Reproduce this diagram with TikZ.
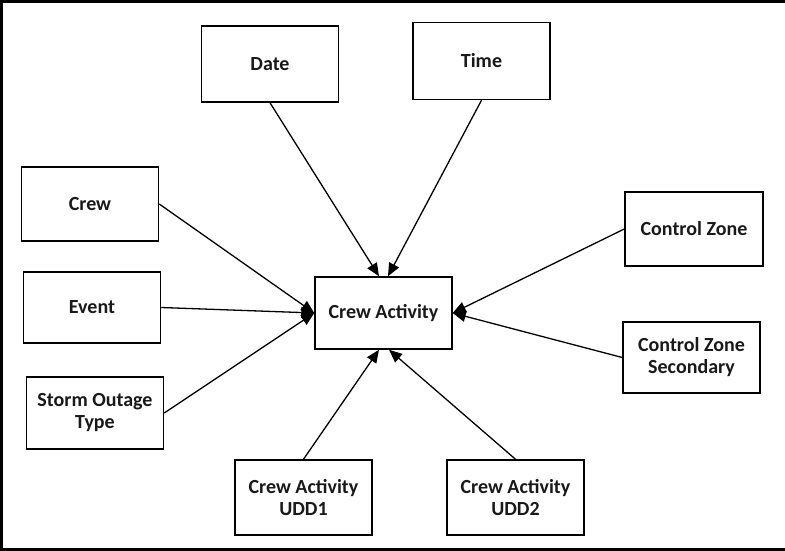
\documentclass[tikz,border=0pt]{standalone}
\usepackage{fontspec}
\setmainfont{Carlito}
\usetikzlibrary{arrows.meta}
\tikzset{
  ent/.style={draw=black, line width=1.5pt, rectangle, inner sep=0pt, align=center,
    minimum width=137pt, minimum height=74pt,
    font=\fontsize{20}{22}\selectfont\bfseries, text=black!90},
  conn/.style={draw=black, line width=1.3pt, -{Triangle[length=13pt,width=11pt]}},
  frame/.style={draw=black, line width=3pt}
}
\begin{document}
\begin{tikzpicture}[x=1pt,y=-1pt]
\useasboundingbox (0,0) rectangle (785,551);
\fill[white] (0,0) rectangle (785,551);
% frame
\draw[frame] (0,1.5) -- (785,1.5);
\draw[frame] (1.2,0) -- (1.2,551);
\draw[frame] (0,549.5) -- (785,549.5);
% nodes
\node[ent, minimum height=76pt] (date) at (270,64) {Date};
\node[ent, minimum height=77pt] (time) at (481.5,61) {Time};
\node[ent] (crew) at (90,204) {Crew};
\node[ent, minimum height=71pt] (event) at (92,307.5) {Event};
\node[ent, minimum height=72pt] (storm) at (95,413) {Storm Outage\\Type};
\node[ent, minimum height=72pt] (ca) at (383.5,313) {Crew Activity};
\node[ent, minimum width=138pt] (cz) at (694,229) {Control Zone};
\node[ent, minimum height=71pt] (czs) at (691.5,357.5) {Control Zone\\Secondary};
\node[ent, minimum height=75pt] (udd1) at (303.5,497.5) {Crew Activity\\UDD1};
\node[ent, minimum height=75pt] (udd2) at (515.5,497.5) {Crew Activity\\UDD2};
% connectors
\draw[conn] (date.south) -- ([xshift=-4.5pt]ca.north);
\draw[conn] (time.south) -- ([xshift=4.5pt]ca.north);
\draw[conn] (crew.east) -- (ca.west);
\draw[conn] (event.east) -- (ca.west);
\draw[conn] (storm.east) -- (ca.west);
\draw[conn] (cz.west) -- (ca.east);
\draw[conn] (czs.west) -- (ca.east);
\draw[conn] (udd1.north) -- ([xshift=-4.5pt]ca.south);
\draw[conn] (udd2.north) -- ([xshift=5.5pt]ca.south);
\end{tikzpicture}
\end{document}
